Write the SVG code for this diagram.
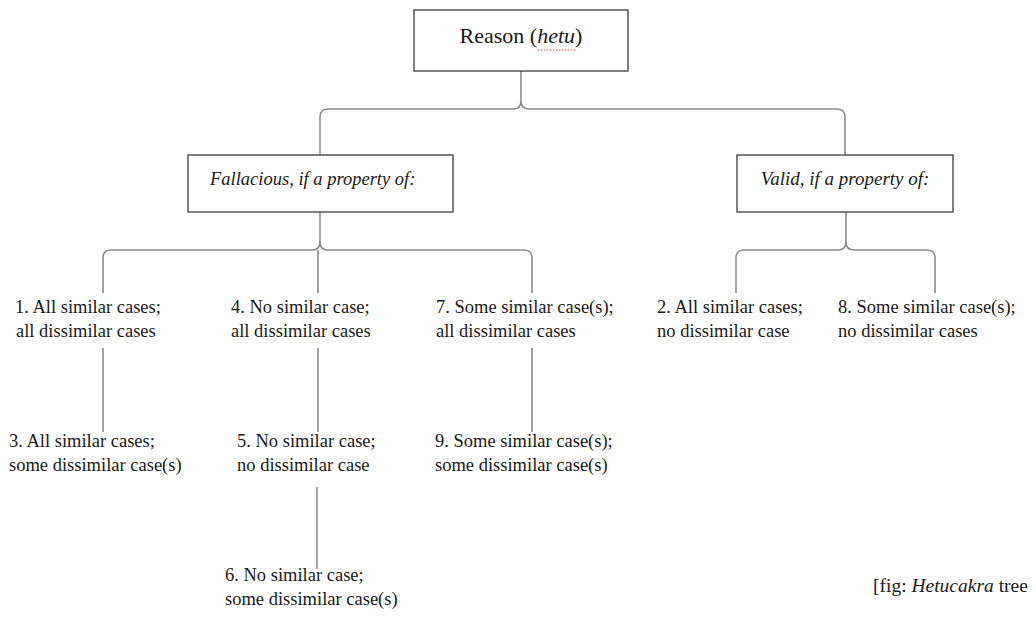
<svg xmlns="http://www.w3.org/2000/svg" width="1036" height="618" viewBox="0 0 1036 618">
<style>
.box{fill:#fff;stroke:#4a4a4a;stroke-width:1.4}
.con{fill:none;stroke:#8c8c8c;stroke-width:1.6}
.t{font-family:'Liberation Serif',serif;font-size:18.5px;fill:#1a1a1a}
.it{font-style:italic}
</style>
<rect width="1036" height="618" fill="#fff"/>
<g id="connectors">
<path class="con" d="M521,71 V101 Q521,109 513,109 H328 Q320,109 320,117 V155"/>
<path class="con" d="M521,101 Q521,109 529,109 H837 Q845,109 845,117 V155"/>
<path class="con" d="M320,212 V242 Q320,250 312,250 H111 Q103,250 103,258 V293"/>
<path class="con" d="M320,242 Q320,250 328,250 H524 Q532,250 532,258 V293"/>
<path class="con" d="M318,250 V293"/>
<path class="con" d="M846,212 V242 Q846,250 838,250 H744 Q736,250 736,258 V293"/>
<path class="con" d="M846,242 Q846,250 854,250 H927 Q935,250 935,258 V293"/>
<path class="con" d="M103,348 V432"/>
<path class="con" d="M318,348 V432"/>
<path class="con" d="M532,348 V432"/>
<path class="con" d="M317,487 V569"/>
</g>
<g id="root">
<rect class="box" x="414" y="10" width="214" height="61"/>
<text class="t" x="521" y="43" text-anchor="middle" style="font-size:22px">Reason (<tspan class="it">hetu</tspan>)</text>
<line x1="538" y1="50" x2="577" y2="50" stroke="#f08a8a" stroke-width="1.5" stroke-dasharray="1.5,1.5"/>
</g>
<g id="fallacious">
<rect class="box" x="188" y="155" width="265" height="57"/>
<text class="t it" x="210" y="185">Fallacious, if a property of:</text>
</g>
<g id="valid">
<rect class="box" x="737" y="155" width="216" height="57"/>
<text class="t it" x="845" y="185" text-anchor="middle" style="font-size:19px">Valid, if a property of:</text>
</g>
<g id="leaf1"><text class="t" x="15" y="313">1. All similar cases;</text><text class="t" x="16" y="337">all dissimilar cases</text></g>
<g id="leaf4"><text class="t" x="231" y="313">4. No similar case;</text><text class="t" x="231" y="337">all dissimilar cases</text></g>
<g id="leaf7"><text class="t" x="436" y="313">7. Some similar case(s);</text><text class="t" x="436" y="337">all dissimilar cases</text></g>
<g id="leaf2"><text class="t" x="657" y="313">2. All similar cases;</text><text class="t" x="657" y="337">no dissimilar case</text></g>
<g id="leaf8"><text class="t" x="838" y="313">8. Some similar case(s);</text><text class="t" x="838" y="337">no dissimilar cases</text></g>
<g id="leaf3"><text class="t" x="9" y="447">3. All similar cases;</text><text class="t" x="9" y="471">some dissimilar case(s)</text></g>
<g id="leaf5"><text class="t" x="237" y="447">5. No similar case;</text><text class="t" x="237" y="471">no dissimilar case</text></g>
<g id="leaf9"><text class="t" x="435" y="447">9. Some similar case(s);</text><text class="t" x="435" y="471">some dissimilar case(s)</text></g>
<g id="leaf6"><text class="t" x="225" y="581">6. No similar case;</text><text class="t" x="225" y="605">some dissimilar case(s)</text></g>
<g id="caption"><text class="t" x="873" y="592" style="font-size:19.5px">[fig: <tspan class="it">Hetucakra</tspan> tree</text></g>
</svg>
